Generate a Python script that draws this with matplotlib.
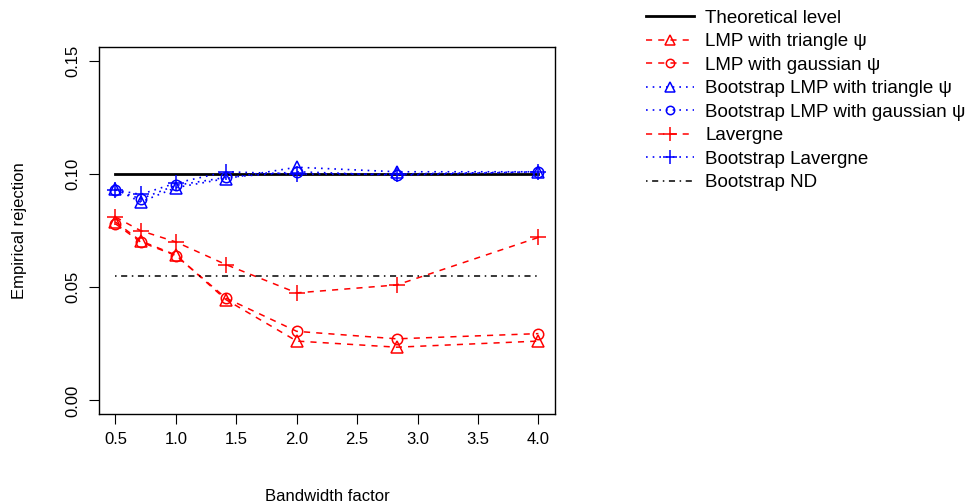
"""
Empirical rejection vs bandwidth factor
"""

##Third party
import matplotlib
matplotlib.use('Agg')
import matplotlib.pyplot as plt
from matplotlib.lines import Line2D

plt.rcParams['font.family'] = ['Liberation Sans', 'DejaVu Sans']

###data
bandwidth = [0.5, 0.707, 1.0, 1.414, 2.0, 2.828, 4.0]
lmp_triangle = [0.0788, 0.0705, 0.0642, 0.0445, 0.0262, 0.0235, 0.0262]
lmp_gaussian = [0.0780, 0.0700, 0.0640, 0.0452, 0.0305, 0.0272, 0.0295]
boot_lmp_triangle = [0.0934, 0.0876, 0.0940, 0.0980, 0.1030, 0.1010, 0.1010]
boot_lmp_gaussian = [0.0930, 0.0890, 0.0950, 0.0985, 0.1010, 0.0995, 0.1010]
lavergne = [0.0810, 0.0750, 0.0700, 0.0600, 0.0475, 0.0510, 0.0720]
boot_lavergne = [0.0930, 0.0910, 0.0960, 0.1010, 0.1000, 0.1000, 0.1010]
theoretical = 0.10
boot_nd = 0.055

legend_labels = ['Theoretical level', 'LMP with triangle ψ', 'LMP with gaussian ψ',
                 'Bootstrap LMP with triangle ψ', 'Bootstrap LMP with gaussian ψ',
                 'Lavergne', 'Bootstrap Lavergne', 'Bootstrap ND']

###figure
fig = plt.figure(figsize=(9.76, 5.03), dpi=100)
plot = fig.add_axes([0.101, 0.177, 0.468, 0.729])

red_dash = dict(color='red', ls=(0, (4, 4)), lw=1.1, mfc='none', mew=1.1)
blue_dot = dict(color='blue', ls=(0, (1, 3)), lw=1.2, mfc='none', mew=1.1)

plot.plot([bandwidth[0], bandwidth[-1]], [theoretical, theoretical], color='black', lw=2)
plot.plot(bandwidth, lmp_triangle, marker='^', ms=9, **red_dash)
plot.plot(bandwidth, lmp_gaussian, marker='o', ms=7.5, **red_dash)
plot.plot(bandwidth, boot_lmp_triangle, marker='^', ms=9, **blue_dot)
plot.plot(bandwidth, boot_lmp_gaussian, marker='o', ms=7.5, **blue_dot)
plot.plot(bandwidth, lavergne, marker='+', ms=11, **red_dash)
plot.plot(bandwidth, boot_lavergne, marker='+', ms=11, **blue_dot)
plot.plot([bandwidth[0], bandwidth[-1]], [boot_nd, boot_nd], color='black', lw=1.1,
          ls=(0, (1, 3, 4, 3)))

###axes
plot.set_xlim(0.36, 4.14)
plot.set_ylim(-0.006, 0.156)
plot.set_xticks([0.5, 1.0, 1.5, 2.0, 2.5, 3.0, 3.5, 4.0])
plot.set_xticklabels(['0.5', '1.0', '1.5', '2.0', '2.5', '3.0', '3.5', '4.0'])
plot.set_yticks([0.0, 0.05, 0.10, 0.15])
plot.set_yticklabels(['0.00', '0.05', '0.10', '0.15'], rotation=90, va='center')
plot.tick_params(axis='both', direction='out', length=7, labelsize=12, pad=6)
plot.set_xlabel('Bandwidth factor', fontsize=12, labelpad=30)
plot.set_ylabel('Empirical rejection', fontsize=12, labelpad=28)
for spine in plot.spines.values():
    spine.set_linewidth(1.0)

###legend
handles = [
    Line2D([], [], color='black', lw=2),
    Line2D([], [], marker='^', ms=7, **red_dash),
    Line2D([], [], marker='o', ms=6, **red_dash),
    Line2D([], [], marker='^', ms=7, **blue_dot),
    Line2D([], [], marker='o', ms=6, **blue_dot),
    Line2D([], [], marker='+', ms=10, **red_dash),
    Line2D([], [], marker='+', ms=10, **blue_dot),
    Line2D([], [], color='black', lw=1.1, ls=(0, (1, 3, 4, 3))),
]
fig.legend(handles, legend_labels, loc='upper left', bbox_to_anchor=(0.645, 1.014),
           frameon=False, fontsize=13.5, handlelength=2.55, handletextpad=0.6,
           labelspacing=0.34, numpoints=1)

fig.savefig('out.png', dpi=100)
